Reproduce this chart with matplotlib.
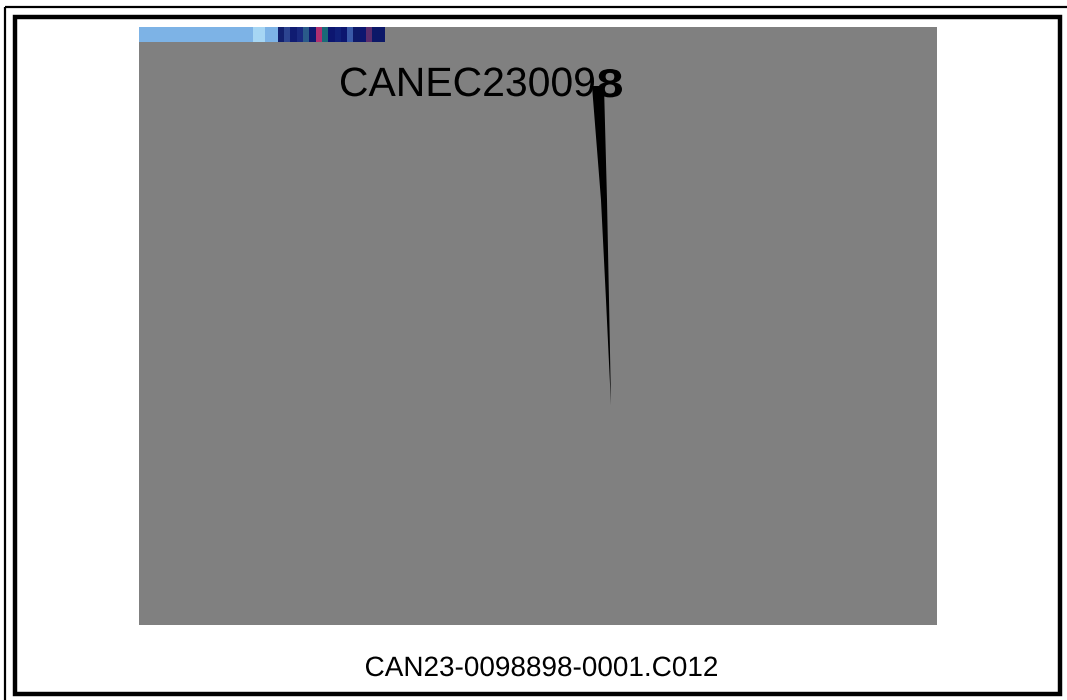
import matplotlib
matplotlib.use("Agg")
import matplotlib.pyplot as plt
from matplotlib.patches import Rectangle, Polygon, PathPatch
from matplotlib.textpath import TextPath
from matplotlib.font_manager import FontProperties
from matplotlib.transforms import Affine2D
import numpy as np

# texts on the page
label_top = "CANEC23009"
label_tail = "8"
caption = "CAN23-0098898-0001.C012"

# colour blocks of the small strip at the top left (left to right)
strip_colors = ["#7db3e6"] * 18 + ["#a6d6f4", "#a6d6f4", "#7db3e6", "#7db3e6",
                "#12206e", "#2c4490", "#101c72", "#1a2a80", "#2a5a8a", "#0e1a70",
                "#b03070", "#1a6a78", "#0c1670", "#10207a", "#0c1670", "#3a5aa8",
                "#0e1a6a", "#0c1670", "#5a2c6c", "#0c1868", "#0c1868"]

fig = plt.figure(figsize=(10.67, 7.0), dpi=100)
ax = fig.add_axes([0, 0, 1, 1])
ax.set_xlim(0, 1067)
ax.set_ylim(700, 0)
ax.axis("off")

# page frames
ax.add_patch(Rectangle((5, 7), 1080, 700, fill=False, lw=1.6, ec="black"))
ax.add_patch(Rectangle((15, 17), 1045, 677, fill=False, lw=3.2, ec="black"))

# grey panel
ax.add_patch(Rectangle((139, 27), 798, 598, fc="#808080", ec="none"))

# strip
img = np.array([[matplotlib.colors.to_rgb(c) for c in strip_colors]])
ax.imshow(img, extent=(139, 385, 42, 27), aspect="auto", interpolation="nearest", zorder=3)
ax.set_xlim(0, 1067)
ax.set_ylim(700, 0)


def put_text(s, x0, x1, ybase, ytop=None, bold=False):
    # scale the glyph outlines so the text spans x0..x1; keep aspect unless ytop given
    fp = FontProperties(family="Liberation Sans", weight="bold" if bold else "normal")
    tp = TextPath((0, 0), s, size=10, prop=fp)
    ext = tp.get_extents()
    sx = (x1 - x0) / ext.width
    sy = sx if ytop is None else (ybase - ytop) / ext.y1
    tr = Affine2D().translate(-ext.x0, 0).scale(sx, -sy).translate(x0, ybase)
    ax.add_patch(PathPatch(tr.transform_path(tp), fc="black", ec="none", zorder=4))


put_text(label_top, 341, 594, 96)
# needle
needle = [(592, 86), (604, 86), (607, 200), (609, 300), (611, 405), (606, 300), (601, 200)]
ax.add_patch(Polygon(needle, closed=True, fc="black", ec="none", zorder=4))
put_text(label_tail, 598, 622, 97, ytop=69, bold=True)

put_text(caption, 366, 717, 676)

fig.savefig("out.png", dpi=100)
